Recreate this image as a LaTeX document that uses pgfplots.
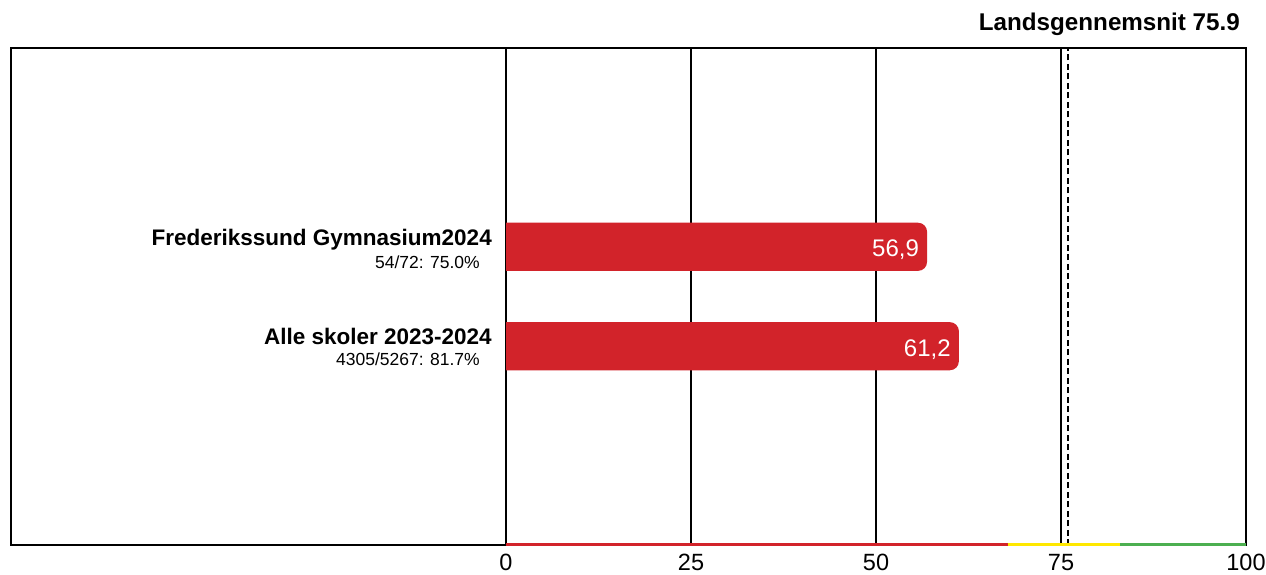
\documentclass[border=0pt]{standalone}
\usepackage{fontspec}
\setmainfont{Liberation Sans}
\usepackage{pgfplots}
\pgfplotsset{compat=1.18}
\definecolor{barred}{RGB}{210,35,42}
\definecolor{stripyellow}{RGB}{255,232,0}
\definecolor{stripgreen}{RGB}{76,175,80}
\begin{document}
\begin{tikzpicture}
\useasboundingbox (0,0) rectangle (1266pt,574pt);
\draw[line width=2pt] (11pt,29pt) rectangle (1246pt,526pt);
\begin{axis}[
  name=ax, at={(506pt,29pt)}, anchor=south west,
  scale only axis, width=740pt, height=497pt,
  xmin=0, xmax=100, ymin=-2, ymax=3,
  xtick={0,25,50,75,100}, ytick=\empty, major tick length=0pt,
  xmajorgrids, grid style={black, line width=1.6pt},
  axis line style={black, line width=2pt},
  tick label style={font=\fontsize{23.5}{27}\selectfont},
  /pgf/number format/assume math mode=true,
  xticklabel style={yshift=-5.5pt},
]
% Frederikssund Gymnasium 2024: 56.9
\addplot[fill=barred, draw=none, rounded corners=9pt] coordinates {(-5,0.758) (56.9,0.758) (56.9,1.242) (-5,1.242)};
% Alle skoler 2023-2024: 61.2
\addplot[fill=barred, draw=none, rounded corners=9pt] coordinates {(-5,-0.242) (61.2,-0.242) (61.2,0.242) (-5,0.242)};
% Landsgennemsnit 75.9
\addplot[black, line width=2pt, dash pattern=on 6pt off 3.5pt] coordinates {(75.9,-2) (75.9,3)};
\node[anchor=base east, inner sep=0pt, text=white, font=\fontsize{24}{28}\selectfont] at (axis cs:56.9,1) [xshift=-8pt, yshift=-10pt] {56,9};
\node[anchor=base east, inner sep=0pt, text=white, font=\fontsize{24}{28}\selectfont] at (axis cs:61.2,0) [xshift=-8pt, yshift=-10pt] {61,2};
\coordinate (f) at (axis cs:0,1);
\coordinate (a) at (axis cs:0,0);
\end{axis}
% colour strip along the bottom of the scale
\draw[barred, line width=3.5pt] (506pt,29.5pt) -- (1007.7pt,29.5pt);
\draw[stripyellow, line width=3.5pt] (1007.7pt,29.5pt) -- (1120.2pt,29.5pt);
\draw[stripgreen, line width=3.5pt] (1120.2pt,29.5pt) -- (1246pt,29.5pt);
% category labels
\node[anchor=base east, inner sep=0pt, font=\bfseries\fontsize{22.5}{26}\selectfont] at ([xshift=-14pt, yshift=1pt]f) {Frederikssund Gymnasium2024};
\node[anchor=base east, inner sep=0pt, font=\fontsize{17.5}{20}\selectfont] at ([xshift=-26pt, yshift=-22pt]f) {54/72: 75.0\%};
\node[anchor=base east, inner sep=0pt, font=\bfseries\fontsize{22.5}{26}\selectfont] at ([xshift=-14pt, yshift=2pt]a) {Alle skoler 2023-2024};
\node[anchor=base east, inner sep=0pt, font=\fontsize{17.5}{20}\selectfont] at ([xshift=-26pt, yshift=-19.5pt]a) {4305/5267: 81.7\%};
% title
\node[anchor=base east, inner sep=0pt, font=\bfseries\fontsize{24.2}{28}\selectfont] at (1240pt,543pt) {Landsgennemsnit 75.9};
\end{tikzpicture}
\end{document}
